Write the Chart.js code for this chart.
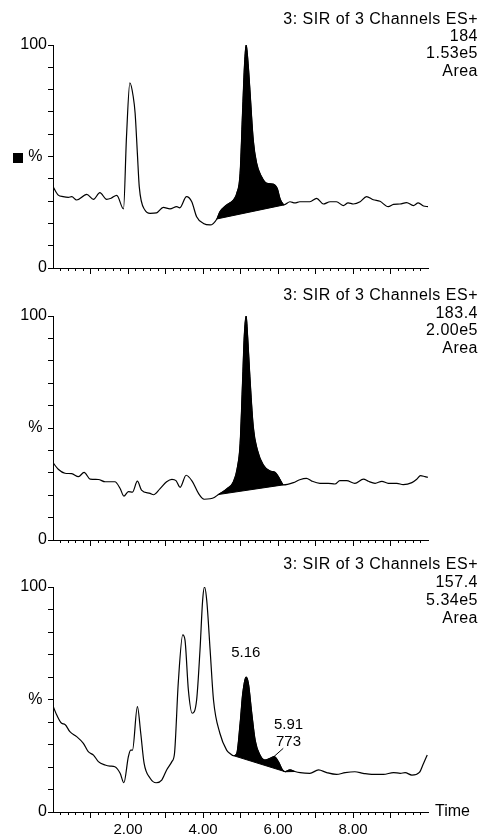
<!DOCTYPE html>
<html>
<head>
<meta charset="utf-8">
<script src="https://cdn.jsdelivr.net/npm/chart.js@4.4.1/dist/chart.umd.min.js"></script>
<style>
html,body{margin:0;padding:0;background:#fff;overflow:hidden;}
#wrap{position:relative;width:481px;height:837px;background:#fff;}
#wrap canvas{position:absolute;left:0;top:0;}
</style>
</head>
<body>
<div id="wrap">
<canvas id="p1" width="481" height="837"></canvas>
<canvas id="p2" width="481" height="837"></canvas>
<canvas id="p3" width="481" height="837"></canvas>
</div>
<script>
// ---------------- data ----------------
const channelTitle = '3: SIR of 3 Channels ES+';
const channelMass = ['184', '183.4', '157.4'];
const channelMax = ['1.53e5', '2.00e5', '5.34e5'];
const channelMode = 'Area';

const xLabelValues = [2, 4, 6, 8];
const xLabelTexts = ['2.00', '4.00', '6.00', '8.00'];
const yLabelValues = [0, 50, 100];
const yLabelTexts = ['0', '% ', '100'];
const xAxisTitle = 'Time';

// Panel 1 : m/z 184
const p1Time = [0.00,0.14,0.27,0.41,0.50,0.63,0.90,1.08,1.25,1.43,1.55,1.70,1.88,1.96,2.05,2.14,2.19,2.25,2.30,2.45,2.59,2.76,2.94,3.12,3.30,3.38,3.56,3.70,3.83,4.01,4.19,4.37,4.45,4.63,4.81,4.90,4.99,5.06,5.11,5.15,5.21,5.25,5.34,5.43,5.56,5.70,5.87,5.98,6.05,6.16,6.32,6.45,6.58,6.85,7.03,7.21,7.39,7.56,7.74,7.87,8.01,8.19,8.36,8.54,8.72,8.94,9.08,9.25,9.43,9.61,9.74,9.88,10.00];
const p1Intensity = [36.5,32.7,32.0,31.7,32.0,30.5,33.0,30.8,33.8,30.8,31.3,32.6,26.5,58.9,83.0,76.8,69.4,51.4,36.5,26.0,24.5,24.7,27.2,26.5,27.5,27.0,32.0,29.7,23.0,20.0,19.3,22.0,25.2,28.3,30.5,33.5,42.5,72.0,92.0,100,90.0,80.0,57.4,47.0,41.0,38.0,37.6,35.7,31.3,28.3,29.7,29.2,29.7,29.7,31.2,28.7,29.7,29.7,28.0,29.2,28.7,29.7,32.0,30.6,29.9,27.5,28.5,28.7,29.3,28.0,29.2,27.8,27.5];
const p1Areas = [[4.37, 6.16]];

// Panel 2 : m/z 183.4
const p2Time = [0.00,0.14,0.32,0.50,0.68,0.83,0.99,1.21,1.39,1.65,1.79,1.89,2.01,2.12,2.25,2.36,2.59,2.68,2.85,3.03,3.17,3.28,3.39,3.55,3.71,3.88,4.03,4.19,4.30,4.41,4.63,4.81,4.92,4.99,5.06,5.10,5.15,5.19,5.25,5.34,5.45,5.61,5.79,5.92,6.01,6.14,6.41,6.58,6.76,6.90,7.12,7.34,7.52,7.65,7.83,8.05,8.28,8.41,8.59,8.77,8.94,9.17,9.34,9.57,9.70,9.80,9.92,10.00];
const p2Intensity = [34.5,31.6,29.8,29.6,28.3,30.2,27.2,27.0,26.0,26.0,23.0,19.6,21.6,21.4,26.3,22.3,20.8,20.2,22.8,26.0,27.1,26.5,23.5,28.9,26.3,20.8,18.2,18.4,19.0,20.3,22.8,26.0,32.7,43.0,72.9,90.8,100,90.8,72.9,50.6,40.2,33.5,30.8,30.2,28.3,24.6,25.6,26.9,27.5,26.3,25.3,25.3,25.0,26.5,26.5,25.3,27.2,26.2,25.3,26.2,25.3,25.3,24.7,25.6,27.1,28.7,28.3,28.0];
const p2Areas = [[4.41, 6.14]];

// Panel 3 : m/z 157.4
const p3Time = [0.00,0.10,0.23,0.32,0.45,0.63,0.81,0.94,1.08,1.21,1.39,1.52,1.65,1.79,1.89,2.01,2.07,2.12,2.25,2.34,2.43,2.59,2.75,2.90,3.03,3.17,3.24,3.34,3.46,3.52,3.61,3.71,3.83,3.92,3.99,4.04,4.10,4.19,4.28,4.45,4.63,4.72,4.82,4.90,4.99,5.06,5.15,5.21,5.30,5.39,5.52,5.65,5.79,5.90,6.01,6.12,6.19,6.32,6.45,6.59,6.85,7.08,7.30,7.56,7.79,8.05,8.27,8.50,8.81,9.08,9.26,9.39,9.57,9.77,9.88,9.98];
const p3Intensity = [47.1,43.1,39.4,38.9,35.7,33.5,30.5,26.8,25.3,22.4,20.9,20.4,20.1,17.2,13.0,24.6,27.5,27.5,46.8,35.0,21.6,15.0,13.0,14.2,18.7,22.4,26.0,57.2,78.7,76.4,54.2,43.9,49.8,72.0,94.0,100,94.0,72.0,49.8,35.0,27.5,26.0,25.0,26.0,39.4,52.7,60.0,57.2,43.9,32.0,25.3,23.1,23.9,24.6,22.4,18.7,17.9,18.7,18.0,17.5,17.2,18.7,17.5,16.7,17.5,17.9,17.2,16.7,16.7,17.5,17.2,17.5,16.4,17.6,21.6,25.3];
const p3Areas = [[4.82, 6.19], [6.19, 6.45]];
const p3PeakTimes = ['5.16', '5.91'];
const p3PeakAreas = ['773'];

// ---------------- helpers ----------------
const BLACK = '#000';
const FONT = '"Liberation Sans", Arial, Helvetica, sans-serif';
Chart.defaults.font.family = FONT;
Chart.defaults.color = BLACK;

function toPoints(times, values) {
  return times.map((t, i) => ({ x: t, y: values[i] }));
}

function buildDatasets(times, values, areas) {
  const pts = toPoints(times, values);
  const ds = [{
    data: pts, borderColor: BLACK, borderWidth: 1.2, pointRadius: 0,
    cubicInterpolationMode: 'monotone', fill: false, order: 0
  }];
  areas.forEach(([a, b]) => {
    const seg = pts.filter(p => p.x >= a - 1e-9 && p.x <= b + 1e-9);
    const baseIndex = ds.length + 1;
    ds.push({
      data: seg, borderColor: BLACK, borderWidth: 1, backgroundColor: BLACK,
      pointRadius: 0, cubicInterpolationMode: 'monotone',
      fill: { target: baseIndex, above: BLACK, below: BLACK }, order: 2
    });
    ds.push({
      data: [seg[0], seg[seg.length - 1]], borderColor: BLACK, borderWidth: 1,
      pointRadius: 0, fill: false, order: 1
    });
  });
  return ds;
}

const edgeTick = c => (c.tick && (c.tick.value <= 0.001 || c.tick.value >= 9.999)) ? 'rgba(0,0,0,0)' : BLACK;

function buildScales(showXLabels) {
  return {
    x: {
      type: 'linear', position: 'bottom', min: 0, max: 10, weight: 0,
      ticks: { display: false, stepSize: 0.2, autoSkip: false, maxRotation: 0 },
      grid: { drawOnChartArea: false, drawTicks: true, tickLength: 3, color: BLACK, tickColor: edgeTick, lineWidth: 1 },
      border: { display: true, color: BLACK, width: 1 },
      afterFit: s => { s.height = 0; }
    },
    x2: {
      type: 'linear', position: 'bottom', min: 0, max: 10, weight: 1,
      ticks: {
        display: true, stepSize: 1, autoSkip: false, maxRotation: 0, minRotation: 0,
        padding: 3, color: BLACK, font: { size: 15 },
        callback: v => {
          const i = xLabelValues.indexOf(Math.round(v * 1000) / 1000);
          return (showXLabels && i >= 0) ? xLabelTexts[i] : '';
        }
      },
      grid: { drawOnChartArea: false, drawTicks: true, tickLength: 6, color: BLACK, tickColor: edgeTick, lineWidth: 1 },
      border: { display: false },
      afterFit: s => { s.height = 25; }
    },
    y: {
      type: 'linear', position: 'left', min: 0, max: 100,
      ticks: {
        stepSize: 10, autoSkip: false, padding: 1, color: BLACK, font: { size: 16 },
        callback: v => {
          const i = yLabelValues.indexOf(Math.round(v));
          return i >= 0 ? yLabelTexts[i] : '';
        }
      },
      grid: { drawOnChartArea: false, drawTicks: true, tickLength: 5, color: BLACK, tickColor: BLACK, lineWidth: 1 },
      border: { display: true, color: BLACK, width: 1 },
      afterFit: s => { s.width = 53; }
    }
  };
}

const panelDecor = {
  id: 'panelDecor',
  afterDraw(chart, args, opts) {
    const ctx = chart.ctx;
    ctx.save();
    ctx.fillStyle = BLACK;
    ctx.strokeStyle = BLACK;
    // header block
    ctx.font = '16px ' + FONT;
    ctx.textAlign = 'right';
    ctx.textBaseline = 'alphabetic';
    if ('letterSpacing' in ctx) ctx.letterSpacing = '0.5px';
    (opts.header || []).forEach((line, i) => {
      ctx.fillText(line, opts.headerX, opts.headerY + i * opts.headerStep);
    });
    if ('letterSpacing' in ctx) ctx.letterSpacing = '0px';
    // legend marker
    if (opts.marker) {
      ctx.fillRect(opts.marker[0], opts.marker[1], opts.marker[2], opts.marker[2]);
    }
    // axis title
    if (opts.timeLabel) {
      ctx.font = '16px ' + FONT;
      ctx.textAlign = 'left';
      ctx.textBaseline = 'middle';
      ctx.fillText(xAxisTitle, opts.timeLabel[0], chart.chartArea.bottom + opts.timeLabel[1]);
    }
    // peak annotations
    if (opts.notes) {
      const xs = chart.scales.x, ys = chart.scales.y;
      ctx.font = '15px ' + FONT;
      ctx.textAlign = 'center';
      ctx.textBaseline = 'middle';
      opts.notes.forEach(n => {
        ctx.fillText(n.text, xs.getPixelForValue(n.x), ys.getPixelForValue(n.y));
      });
    }
    ctx.restore();
  }
};
Chart.register(panelDecor);

function makePanel(id, times, values, areas, areaTop, areaBottom, decor, extraSets, showXLabels) {
  const datasets = buildDatasets(times, values, areas).concat(extraSets || []);
  return new Chart(document.getElementById(id), {
    type: 'line',
    data: { datasets },
    options: {
      responsive: false, animation: false, devicePixelRatio: 1,
      layout: { padding: { left: 0, right: 481 - 428, top: areaTop, bottom: 837 - areaBottom - 25 } },
      scales: buildScales(showXLabels),
      plugins: { legend: { display: false }, tooltip: { enabled: false }, panelDecor: decor },
      events: []
    }
  });
}

makePanel('p1', p1Time, p1Intensity, p1Areas, 45, 268, {
  header: [channelTitle, channelMass[0], channelMax[0], channelMode],
  headerX: 478, headerY: 23.5, headerStep: 17.4, marker: [13, 153, 10]
}, [], false);

makePanel('p2', p2Time, p2Intensity, p2Areas, 316, 540, {
  header: [channelTitle, channelMass[1], channelMax[1], channelMode],
  headerX: 478, headerY: 300, headerStep: 17.6
}, [], false);

const leaderLine = {
  data: [{ x: 5.87, y: 24.3 }, { x: 6.14, y: 28.3 }],
  borderColor: BLACK, borderWidth: 1, pointRadius: 0, fill: false, order: 0
};
makePanel('p3', p3Time, p3Intensity, p3Areas, 587, 812, {
  header: [channelTitle, channelMass[2], channelMax[2], channelMode],
  headerX: 478, headerY: 568.5, headerStep: 18.2,
  timeLabel: [435, 0],
  notes: [
    { x: 5.14, y: 70.7, text: p3PeakTimes[0] },
    { x: 6.28, y: 38.7, text: p3PeakTimes[1] },
    { x: 6.28, y: 31.2, text: p3PeakAreas[0] }
  ]
}, [leaderLine], true);
</script>
</body>
</html>
